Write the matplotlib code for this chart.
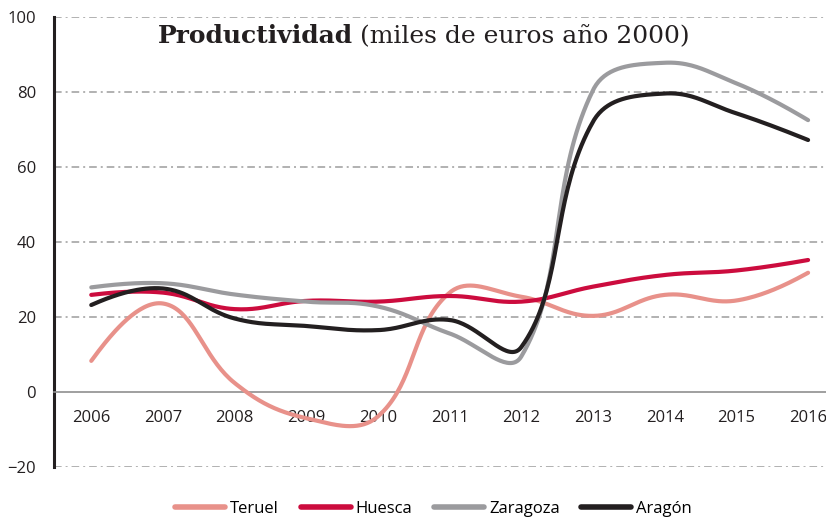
import numpy as np
import matplotlib.pyplot as plt

years = [2006, 2007, 2008, 2009, 2010, 2011, 2012, 2013, 2014, 2015, 2016]
teruel = [8.3, 23.6, 2.4, -7.0, -6.5, 26.5, 25.4, 20.3, 25.9, 24.4, 31.8]
huesca = [25.9, 26.5, 22.1, 24.3, 24.1, 25.6, 24.1, 28.1, 31.2, 32.4, 35.2]
zaragoza = [27.9, 29.0, 26.0, 24.1, 22.8, 15.6, 9.5, 80.5, 87.8, 82.3, 72.5]
aragon = [23.2, 27.6, 19.6, 17.6, 16.5, 19.2, 12.0, 72.1, 79.6, 74.3, 67.2]

series_names = ["Teruel", "Huesca", "Zaragoza", "Aragón"]
colors = ["#E8918A", "#CC0C3E", "#9B9B9E", "#231F20"]
ygrid = [-20, 20, 40, 60, 80, 100]


def smooth(x, y, sx=71.7, sy=3.75, tension=0.4, n=40):
    # Excel-like smoothed line: Bezier segments, control points scaled by
    # chord lengths measured in screen pixels
    p = np.column_stack([np.asarray(x, float) * sx, np.asarray(y, float) * sy])
    k = len(p)
    cin = p.copy()
    cout = p.copy()
    for i in range(1, k - 1):
        d0 = np.hypot(*(p[i] - p[i - 1]))
        d1 = np.hypot(*(p[i + 1] - p[i]))
        v = p[i + 1] - p[i - 1]
        cin[i] = p[i] - tension * d0 / (d0 + d1) * v
        cout[i] = p[i] + tension * d1 / (d0 + d1) * v
    cout[0] = p[0] + (cin[1] - p[0]) * 0.3
    cin[-1] = p[-1] + (cout[-2] - p[-1]) * 0.3
    pts = []
    for i in range(k - 1):
        t = np.linspace(0, 1, n)[:, None]
        b = ((1 - t) ** 3 * p[i] + 3 * (1 - t) ** 2 * t * cout[i]
             + 3 * (1 - t) * t ** 2 * cin[i + 1] + t ** 3 * p[i + 1])
        pts.append(b)
    pts = np.vstack(pts)
    return pts[:, 0] / sx, pts[:, 1] / sy


plt.rcParams['font.family'] = ['Open Sans', 'DejaVu Sans']

fig = plt.figure(figsize=(8.26, 5.22), dpi=100)
ax = fig.add_axes([54 / 826, 1 - 467 / 522, 1 - 54 / 826, 450 / 522])

for yv in ygrid:
    ax.axhline(yv, color="#9D9D9D", lw=1.1, dashes=(5, 2.6, 1.3, 2.6), zorder=1)

for name, vals, c in zip(series_names, [teruel, huesca, zaragoza, aragon], colors):
    sx, sy = smooth(years, vals)
    ax.plot(sx, sy, color=c, lw=3, solid_capstyle='round', label=name, zorder=3)

ax.set_xlim(2005.48, 2016.25)
ax.set_ylim(-20, 100)
ax.set_yticks(range(-20, 101, 20))
ax.set_xticks(years)
ax.tick_params(axis='both', length=0, labelsize=12, colors="#231F20")
ax.tick_params(axis='y', pad=13)
ax.tick_params(axis='x', pad=13)

for s in ['top', 'right']:
    ax.spines[s].set_visible(False)
ax.spines['left'].set_linewidth(2.2)
ax.spines['left'].set_color("#231F20")
ax.spines['bottom'].set_position(('data', 0))
ax.spines['bottom'].set_color("#8F8F8F")
ax.spines['bottom'].set_linewidth(1.2)

t1 = fig.text(158 / 826, 1 - 43 / 522, "Productividad", family="DejaVu Serif",
              weight="bold", fontsize=18, color="#231F20", va="baseline")
fig.canvas.draw()
bb = t1.get_window_extent()
fig.text(bb.x1 / fig.bbox.width + 0.008, 1 - 43 / 522, "(miles de euros año 2000)",
         family="DejaVu Serif", fontsize=18, color="#231F20", va="baseline")

leg = fig.legend(loc='center', bbox_to_anchor=(0.525, 0.025), ncol=4, frameon=False,
                 fontsize=12, handlelength=3.0, handletextpad=0.3, columnspacing=1.3)
for h in leg.legend_handles:
    h.set_linewidth(4)

fig.savefig("out.png", dpi=100)
